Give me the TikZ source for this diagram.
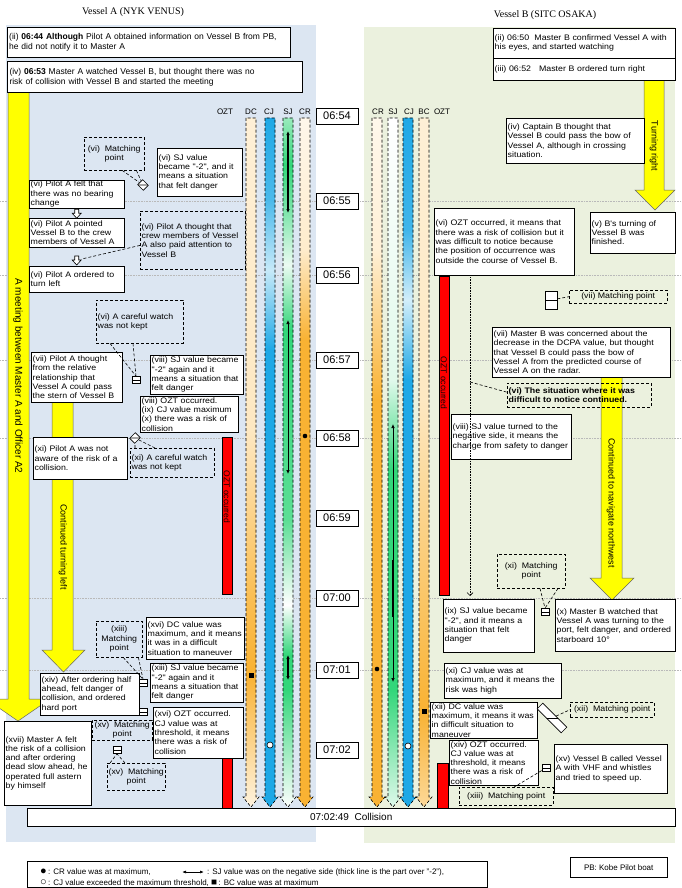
\documentclass[tikz,border=0pt]{standalone}
\usepackage{fontspec}
\setmainfont{Liberation Sans}
\newfontfamily\titlefont{Liberation Serif}
\newfontfamily\notefamily{Liberation Sans}[FakeStretch=1.1]
\usetikzlibrary{positioning,arrows.meta,calc}
\definecolor{bgA}{HTML}{DCE6F2}
\definecolor{bgB}{HTML}{EBF1DE}
\definecolor{barorange}{HTML}{F9B233}
\definecolor{barblue}{HTML}{1EA8E6}
\definecolor{bargreen}{HTML}{33D67A}
\definecolor{oztred}{HTML}{FF0000}
\definecolor{oztdark}{HTML}{1A0000}
\definecolor{arrowyellow}{HTML}{FFFF00}

\newcommand{\notefont}{\notefamily\fontsize{8}{9.3}\selectfont}
\newcommand{\topfont}{\fontsize{8.5}{10}\selectfont}

\tikzset{
  note/.style={draw, fill=white, anchor=north west, align=left, inner xsep=1.5pt, inner ysep=1pt, font=\notefont},
  topnote/.style={note, inner xsep=2pt, font=\topfont},
  mpbox/.style={draw, densely dashed, anchor=north west, align=center, inner sep=0.5pt, font=\notefont},
  watchbox/.style={draw, densely dashed, anchor=north west, align=left, inner xsep=1.5pt, inner ysep=1pt, font=\notefont},
  timebox/.style={draw, fill=white, minimum width=42pt, minimum height=16pt, inner sep=0pt, font=\fontsize{11}{13}\selectfont},
  colhead/.style={inner sep=0pt, font=\fontsize{8}{9}\selectfont},
  titletext/.style={inner sep=0pt, font=\titlefont\fontsize{10}{12}\selectfont},
  minuteline/.style={gray!55, densely dotted, line width=0.6pt},
  yarrow/.style={fill=arrowyellow, draw=black!60, line width=0.5pt},
  arrowtext/.style={rotate=-90, inner sep=0pt, font=\fontsize{9}{10}\selectfont},
  oztbar/.style={fill=oztred, draw=black, line width=0.5pt},
  ozttext/.style={rotate=-90, inner sep=0pt, text=oztdark, font=\fontsize{8.5}{10}\selectfont},
  mpicon/.style={draw, fill=white, minimum width=8pt, minimum height=7pt, inner sep=0pt, line width=0.6pt,
    path picture={\draw[line width=0.6pt] (path picture bounding box.west) -- (path picture bounding box.east);}},
  callout/.style={densely dashed, line width=0.6pt},
  barborder/.style={densely dashed, line width=0.6pt},
  sjarrow/.style={{Latex[length=4pt,width=3.5pt]}-{Latex[length=4pt,width=3.5pt]}, line width=0.7pt},
  legtext/.style={anchor=west, inner sep=0pt, font=\fontsize{8}{9}\selectfont},
  downblk/.pic={\draw[fill=white, line width=0.6pt] (-2,-4) -- (2,-4) -- (2,0) -- (4.5,0) -- (0,5) -- (-4.5,0) -- (-2,0) -- cycle;}
}

% one value column: x centre, then top/colour/bottom/colour pieces
\newcommand{\valuebar}[2]{%
  \begin{scope}
    \clip (#1-5,118) -- (#1-5,797) -- (#1-8,797) -- (#1,807) -- (#1+8,797) -- (#1+5,797) -- (#1+5,118) -- cycle;
    \foreach \ya/\ca/\yb/\cb in {#2}
      \shade[top color=\ca, bottom color=\cb] (#1-9,\ya) rectangle (#1+9,\yb);
  \end{scope}
  \draw[barborder] (#1-5,118) -- (#1-5,797) -- (#1-8,797) -- (#1,807) -- (#1+8,797) -- (#1+5,797) -- (#1+5,118) -- cycle;
}

\begin{document}
\begin{tikzpicture}[x=1pt,y=-1pt]
\useasboundingbox (0,0) rectangle (682,888);

% ship areas
\fill[bgA] (6,25) rectangle (316,842);
\fill[bgB] (364,27) rectangle (675,843);
\node[titletext] (titleA) at (133,12) {Vessel A (NYK VENUS)};
\node[titletext] (titleB) at (545,15) {Vessel B (SITC OSAKA)};

% minute lines
\foreach \y in {201,275,360,438,598,670}
  \draw[minuteline] (0,\y) -- (682,\y);

% value columns
\valuebar{251}{118/barorange!20/430/barorange!30, 430/barorange!30/600/barorange!85, 600/barorange!85/675/barorange, 675/barorange/808/barorange!15}
\valuebar{270}{118/barblue/200/barblue!80, 200/barblue!80/270/barblue!25, 270/barblue!25/350/barblue, 350/barblue/808/barblue}
\valuebar{288}{118/bargreen!50/165/bargreen, 165/bargreen/215/bargreen!60, 215/bargreen!60/265/bargreen!10, 265/bargreen!10/330/bargreen, 330/bargreen/520/bargreen!80, 520/bargreen!80/605/white, 605/white/655/bargreen, 655/bargreen/690/bargreen, 690/bargreen/808/white}
\valuebar{305}{118/barorange!10/250/barorange!25, 250/barorange!25/340/barorange, 340/barorange/808/barorange}
\valuebar{377}{118/barorange!10/250/barorange!20, 250/barorange!20/400/barorange, 400/barorange/808/barorange}
\valuebar{393}{118/white/380/bargreen!15, 380/bargreen!15/470/bargreen, 470/bargreen/690/bargreen, 690/bargreen/808/bargreen!15}
\valuebar{408}{118/barblue/230/barblue!85, 230/barblue!85/300/barblue!20, 300/barblue!20/380/barblue, 380/barblue/808/barblue}
\valuebar{424}{118/barorange!20/400/barorange!30, 400/barorange!30/711/barorange, 711/barorange/808/barorange!50}

\foreach \n/\t/\x in {hAozt/OZT/225, hAdc/DC/251, hAcj/CJ/269, hAsj/SJ/288, hAcr/CR/305,
                      hBcr/CR/378, hBsj/SJ/393, hBcj/CJ/409, hBbc/BC/424, hBozt/OZT/442}
  \node[colhead] (\n) at (\x,112) {\t};

% marks on the columns
\draw[sjarrow, line width=1.3pt] (288,131) -- (288,213);
\draw[sjarrow] (288,320) -- (288,474);
\draw[sjarrow, line width=1.3pt] (288,655) -- (288,680);
\draw[sjarrow] (393,424) -- (393,682);
\draw[line width=1.8pt] (393,560) -- (393,617);
\fill (305,436) circle (2.3pt);
\fill (377,669) circle (2.3pt);
\fill (248.5,672.5) rectangle (253.5,677.5);
\fill (421.5,708.5) rectangle (426.5,713.5);
\draw[fill=white, line width=0.6pt] (270,745) circle (3pt);
\draw[fill=white, line width=0.6pt] (408,746) circle (3pt);

% OZT
\draw[oztbar] (222,437) rectangle (232,594);
\node[ozttext] (oztA) at (227,497) {OZT occurred};
\draw[oztbar] (222,752) rectangle (232,808);
\draw[oztbar] (439,276) rectangle (449,595);
\node[ozttext] (oztB) at (444,383) {OZT occurred};
\draw[oztbar] (437,763) rectangle (448,808);

% time stamps
\foreach \n/\t/\y in {t0654/06:54/116, t0655/06:55/201, t0656/06:56/275, t0657/06:57/360, t0658/06:58/438,
                      t0659/06:59/518, t0700/07:00/598, t0701/07:01/670, t0702/07:02/750}
  \node[timebox] (\n) at (337,\y) {\t};

% big arrows
\filldraw[yarrow] (8,92) -- (8,699) -- (-14,699) -- (18,721) -- (50,699) -- (29,699) -- (29,92) -- cycle;
\node[arrowtext, font=\fontsize{10}{12}\selectfont] (meetA) at (18,376) {A meeting between Master A and Officer A2};
\filldraw[yarrow] (52,402) -- (52,650) -- (42,650) -- (63.5,672) -- (85,650) -- (73,650) -- (73,402) -- cycle;
\node[arrowtext] (leftA) at (63,547) {Continued turning left};
\filldraw[yarrow] (644,80) -- (644,190) -- (635,190) -- (655,210) -- (675,190) -- (664,190) -- (664,80) -- cycle;
\node[arrowtext] (rightB) at (654,146) {Turning right};
\filldraw[yarrow] (601,377) -- (601,578) -- (590,578) -- (612,600) -- (634,578) -- (622,578) -- (622,377) -- cycle;
\node[arrowtext] (nwB) at (611,503) {Continued to navigate northwest};

% Vessel A
\node[topnote, text width=279pt, minimum height=30pt] (tA2) at (7,27)
  {(ii) \textbf{06:44 Although} Pilot A obtained information on Vessel B from PB,\\ he did not notify it to Master A};
\node[topnote, text width=291pt, minimum height=31pt, line width=1pt] (tA4) at (7,61)
  {(iv) \textbf{06:53} Master A watched Vessel B, but thought there was no\\ risk of collision with Vessel B and started the meeting};
\node[mpbox, minimum width=60pt, minimum height=33pt] (mA6) at (84,137) {(vi)\ \ Matching\\ point};
\node[note, text width=82pt, minimum height=48pt] (nA6sj) at (157,148)
  {(vi) SJ value\\ became "-2", and it\\ means a situation\\ that felt danger};
\node[note, text width=92pt, minimum height=27pt] (nA6felt) at (29,180)
  {(vi) Pilot A felt that\\ there was no bearing\\ change};
\node[note, text width=92pt, minimum height=29pt] (nA6point) at (29,218)
  {(vi) Pilot A pointed\\ Vessel B to the crew\\ members of Vessel A};
\node[watchbox, text width=102pt, minimum height=58pt] (dA6crew) at (140,211)
  {(vi) Pilot A thought that\\ crew members of Vessel\\ A also paid attention to\\ Vessel B};
\node[note, text width=92pt, minimum height=26pt] (nA6turn) at (29,266)
  {(vi) Pilot A ordered to\\ turn left};
\pic (blk1) at ($(nA6felt.south)!0.5!(nA6point.north)$) {downblk};
\pic (blk2) at ($(nA6turn.north)+(0,-6)$) {downblk};
\draw[callout] ($(dA6crew.south west)+(0,-24)$) -- ($(nA6turn.north)+(5,-7)$);
\node[watchbox, text width=84pt, minimum height=43pt] (dA6watch) at (96,300)
  {(vi) A careful watch\\ was not kept};
\node[note, text width=88pt, minimum height=50pt] (nA7) at (31,352)
  {(vii) Pilot A thought\\ from the relative\\ relationship that\\ Vessel A could pass\\ the stern of Vessel B};
\node[note, text width=90pt, minimum height=39pt] (nA8sj) at (150,355)
  {(viii) SJ value became\\ "-2" again and it\\ means a situation that\\ felt danger};
\node[note, text width=95pt, minimum height=36pt] (nA8ozt) at (140,396)
  {(viii) OZT occurred.\\ (ix) CJ value maximum\\ (x) there was a risk of\\ collision};
\node[note, text width=91pt, minimum height=42pt] (nA11) at (33,437)
  {(xi) Pilot A was not\\ aware of the risk of a\\ collision.};
\node[watchbox, text width=81pt, minimum height=29pt] (dA11) at (130,448)
  {(xi) A careful watch\\ was not kept};
\node[mpbox, minimum width=46pt, minimum height=36pt] (dA13) at (96,621) {(xiii)\\ Matching\\ point};
\node[note, text width=95pt, minimum height=42pt] (nA16dc) at (146,617)
  {(xvi) DC value was\\ maximum, and it means\\ it was in a difficult\\ situation to maneuver};
\node[note, text width=90pt, minimum height=39pt] (nA13sj) at (150,663)
  {(xiii) SJ value became\\ "-2" again and it\\ means a situation that\\ felt danger};
\node[note, text width=96pt, minimum height=42pt] (nA14) at (40,673)
  {(xiv) After ordering half\\ ahead, felt danger of\\ collision, and ordered\\ hard port};
\node[note, text width=87pt, minimum height=51pt] (nA16ozt) at (153,707)
  {(xvi) OZT occurred.\\ CJ value was at\\ threshold, it means\\ there was a risk of\\ collision};
\node[mpbox, minimum width=60pt, minimum height=20pt] (dA15a) at (92,720) {(xv)\ \ Matching\\ point};
\node[mpbox, minimum width=58pt, minimum height=27pt] (dA15b) at (107,763) {(xv)\ \ Matching\\ point};
\node[note, text width=84pt, minimum height=84pt] (nA17) at (4,721)
  {(xvii) Master A felt\\ the risk of a collision\\ and after ordering\\ dead slow ahead, he\\ operated full astern\\ by himself};

% Vessel A matching icons
\node[mpicon, rotate=-45] (icA6) at (143,185) {};
\node[mpicon] (icA6w) at (136,380) {};
\node[mpicon, rotate=45] (icA11) at (135,438) {};
\node[mpicon] (icA13a) at (143,683) {};
\node[mpicon] (icA13b) at (143,712) {};
\node[mpicon] (icA15) at (117,750) {};
\draw[callout] ($(mA6.south)+(8,0)$) -- (icA6);
\draw[callout] ($(mA6.south east)+(-8,0)$) -- (icA6);
\draw[callout] ($(dA6watch.south west)+(14,0)$) -- (icA6w.north);
\draw[callout] ($(dA6watch.south west)+(37,0)$) -- (icA6w.north);
\draw[callout] ($(dA11.north west)+(5,0)$) -- (icA11);
\draw[callout] ($(dA11.north west)+(25,0)$) -- (icA11);
\draw[callout] ($(dA13.south)+(4,0)$) -- (icA13a.north);
\draw[callout] ($(dA13.south east)+(-4,0)$) -- (icA13a.north);
\draw[callout] ($(dA15b.north west)+(3,0)$) -- (icA15.south);
\draw[callout] ($(dA15b.north west)+(18,0)$) -- (icA15.south);

% Vessel B
\node[note, text width=179pt, minimum height=30pt] (tB2) at (493,28)
  {(ii) 06:50\ \ Master B confirmed Vessel A with\\ his eyes, and started watching};
\node[note, text width=179pt, minimum height=22pt] (tB3) at (493,58)
  {(iii) 06:52\ \ \ Master B ordered turn right};
\node[note, text width=135pt, minimum height=45pt] (nB4) at (506,118)
  {(iv) Captain B thought that\\ Vessel B could pass the bow of\\ Vessel A, although in crossing\\ situation.};
\node[note, text width=82pt, minimum height=41pt] (nB5) at (590,212)
  {(v) B's turning of\\ Vessel B was\\ finished.};
\node[note, text width=137pt, minimum height=67pt] (nB6) at (434,208)
  {(vi) OZT occurred, it means that\\ there was a risk of collision but it\\ was difficult to notice because\\ the position of occurrence was\\ outside the course of Vessel B.};
\node[mpbox, minimum width=98pt, minimum height=13pt] (dB7) at (569,290) {(vii) Matching point};
\node[note, text width=175pt, minimum height=50pt] (nB7) at (492,327)
  {(vii) Master B was concerned about the\\ decrease in the DCPA value, but thought\\ that Vessel B could pass the bow of\\ Vessel A from the predicted course of\\ Vessel A on the radar.};
\node[watchbox, text width=141pt, minimum height=24pt, font=\notefont\bfseries] (dB6) at (507,383)
  {(vi) The situation where it was\\ difficult to notice continued.};
\node[note, text width=117pt, minimum height=45pt] (nB8) at (451,414)
  {(viii) SJ value turned to the\\ negative side, it means the\\ change from safety to danger};
\node[mpbox, minimum width=68pt, minimum height=34pt] (dB11) at (497,554) {(xi)\ \ Matching\\ point};
\node[note, text width=88pt, minimum height=53pt] (nB9) at (443,599)
  {(ix) SJ value became\\ "-2", and it means a\\ situation that felt\\ danger};
\node[note, text width=117pt, minimum height=52pt] (nB10) at (555,599)
  {(x) Master B watched that\\ Vessel A was turning to the\\ port, felt danger, and ordered\\ starboard 10°};
\node[note, text width=114pt, minimum height=35pt] (nB11) at (444,663)
  {(xi) CJ value was at\\ maximum, and it means the\\ risk was high};
\node[note, text width=104pt, minimum height=36pt] (nB12) at (430,702)
  {(xii) DC value was\\ maximum, it means it was\\ in difficult situation to\\ maneuver};
\node[mpbox, minimum width=84pt, minimum height=15pt] (dB12) at (570,702) {(xii)\ \ Matching point};
\node[note, text width=86pt, minimum height=44pt] (nB14) at (449,740)
  {(xiv) OZT occurred.\\ CJ value was at\\ threshold, it means\\ there was a risk of\\ collision};
\node[note, text width=110pt, minimum height=49pt] (nB15) at (554,744)
  {(xv) Vessel B called Vessel\\ A with VHF and whistles\\ and tried to speed up.};
\node[mpbox, minimum width=94pt, minimum height=18pt] (dB13) at (459,787) {(xiii)\ \ Matching point};

% Vessel B matching icons
\node[mpicon, rotate=90, minimum width=18pt, minimum height=12pt] (icB7) at (551,300) {};
\node[mpicon] (icB11) at (545,612) {};
\node[mpicon, rotate=-45, minimum width=34pt, minimum height=8pt] (icB12) at (552,718) {};
\node[mpicon] (icB14) at (546,768) {};
\draw[callout] (icB7) -- (dB7.west);
\draw[callout] ($(dB11.south west)+(43,0)$) -- (icB11.north);
\draw[callout] ($(dB11.south west)+(61,0)$) -- (icB11.north);
\draw[callout] (icB12) -- (dB12.west);
\draw[callout] (icB14) -- ($(dB13.north)+(8,0)$);
\coordinate (b6foot) at (470,596);
\coordinate (b6knee) at (470,382);
\draw[densely dotted, line width=0.6pt, -{Straight Barb[length=3pt]}] (nB6.south -| b6foot) -- (b6foot);
\draw[callout] (b6knee) -- ($(dB6.west)+(0,-3)$);

% collision
\node[draw, fill=white, anchor=north west, minimum width=648pt, minimum height=18pt, inner sep=0pt,
      font=\fontsize{10}{12}\selectfont] (coll) at (27,808) {07:02:49\ \ Collision};

% legend
\draw[line width=0.6pt] (27,861) rectangle (487,887);
\node[legtext] (lgCR) at (40,872) {{\fontsize{11}{11}\selectfont ●}\,: CR value was at maximum,};
\coordinate (lgArrL) at (182,872);
\coordinate (lgArrR) at (204,872);
\draw[{Latex[length=4pt]}-{Latex[length=4pt]}, line width=0.7pt] (lgArrL) -- (lgArrR);
\node[legtext] (lgSJ) at (207,872) {: SJ value was on the negative side (thick line is the part over "-2"),};
\node[legtext] (lgCJ) at (40,883) {{\fontsize{11}{11}\selectfont ○}\,: CJ value exceeded the maximum threshold, {\fontsize{10}{10}\selectfont ■}\,: BC value was at maximum};
\node[draw, anchor=north west, minimum width=97pt, minimum height=20pt, inner sep=0pt,
      font=\fontsize{8}{9}\selectfont] (lgPB) at (570,857) {PB: Kobe Pilot boat};
\end{tikzpicture}
\end{document}
